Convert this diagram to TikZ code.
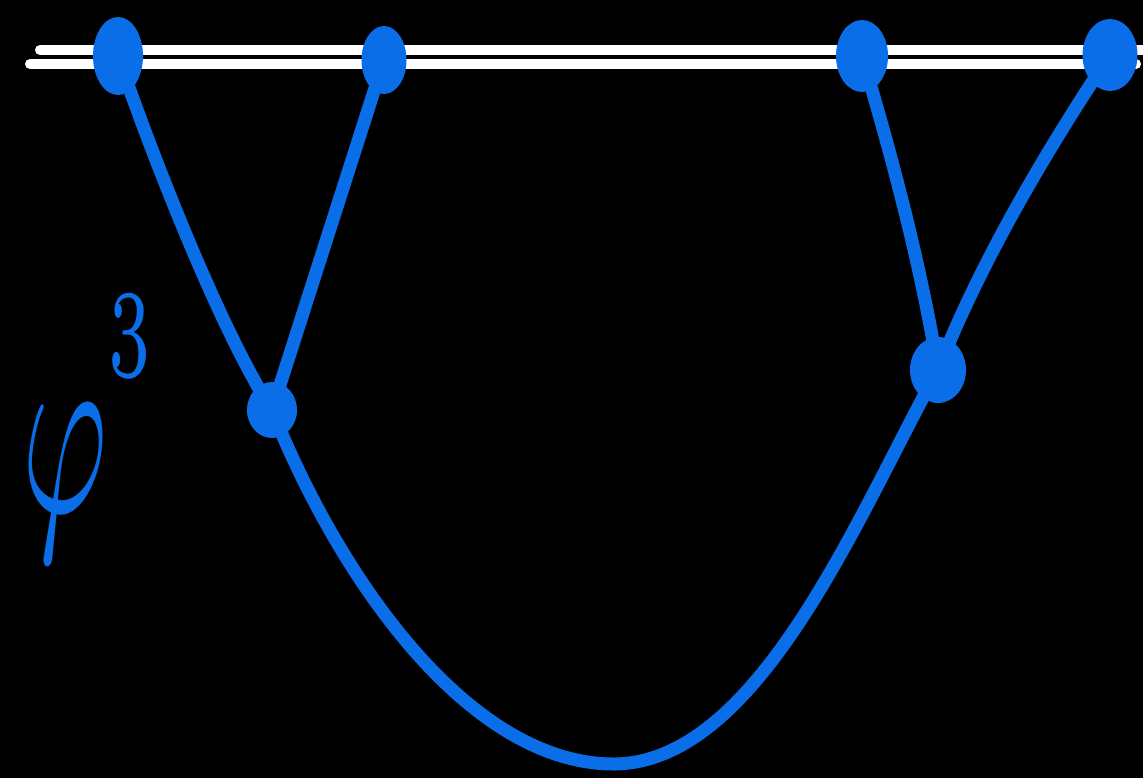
\documentclass[tikz,border=0pt]{standalone}
\usetikzlibrary{shapes.geometric}
\definecolor{fblue}{RGB}{10,110,232}
\tikzset{
  wire/.style={line width=13pt, draw=fblue, line cap=round, line join=round},
  rail/.style={line width=10pt, draw=white, line cap=round},
  vtx/.style={ellipse, fill=fblue, inner sep=0pt},
}
\begin{document}
\begin{tikzpicture}[x=1pt,y=-1pt]
\useasboundingbox[fill=black] (0,0) rectangle (1143,778);
% rails
\coordinate (r1a) at (40,50);  \coordinate (r1b) at (1143,50);
\coordinate (r2a) at (30,64);  \coordinate (r2b) at (1136,64);
\draw[rail] (r1a) -- (r1b);
\draw[rail] (r2a) -- (r2b);
% vertex positions
\coordinate (A) at (118,56);
\coordinate (B) at (384,60);
\coordinate (C) at (862,56);
\coordinate (D) at (1110,55);
\coordinate (E) at (272,410);
\coordinate (F) at (938,370);
% propagators
\draw[wire] (A) .. controls (150,150) and (220,330) .. (E);
\draw[wire] (B) -- (E);
\draw[wire] (C) .. controls (890,150) and (920,260) .. (F);
\draw[wire] (D) .. controls (1060,130) and (985,250) .. (F);
\draw[wire] (E) .. controls (340,580) and (470,765) .. (615,764)
                .. controls (760,762) and (860,510) .. (F);
% vertices
\node[vtx, minimum width=50pt, minimum height=78pt] (vA) at (A) {};
\node[vtx, minimum width=45pt, minimum height=68pt] (vB) at (B) {};
\node[vtx, minimum width=52pt, minimum height=72pt] (vC) at (C) {};
\node[vtx, minimum width=55pt, minimum height=72pt] (vD) at (D) {};
\node[vtx, minimum width=50pt, minimum height=56pt] (vE) at (E) {};
\node[vtx, minimum width=56pt, minimum height=66pt] (vF) at (F) {};
% label
\node[text=fblue, xscale=13, yscale=25, inner sep=0pt, anchor=base west] (lab) at (20,512)
  {$\varphi\raisebox{5.4pt}{$\scriptscriptstyle 3$}$};
\end{tikzpicture}
\end{document}
